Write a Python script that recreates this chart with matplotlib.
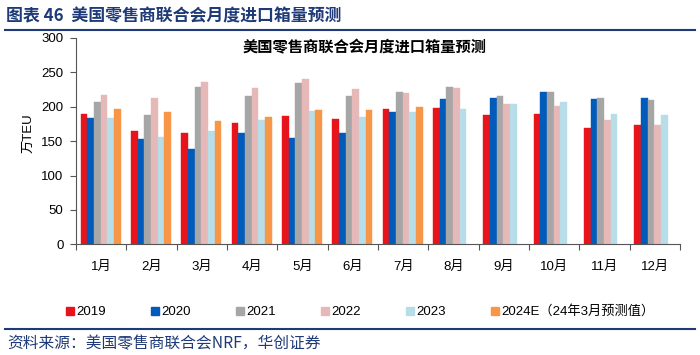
import numpy as np
import matplotlib
matplotlib.use("Agg")
import matplotlib.pyplot as plt
from matplotlib.lines import Line2D

plt.rcParams['font.family'] = ['Liberation Sans', 'Noto Sans CJK SC', 'DejaVu Sans']

# 数据（万TEU）
months = ["1月", "2月", "3月", "4月", "5月", "6月", "7月", "8月", "9月", "10月", "11月", "12月"]
y2019 = [190, 164, 162, 176, 186, 182, 197, 198, 188, 189, 169, 173]
y2020 = [183, 153, 139, 162, 155, 162, 193, 211, 212, 222, 211, 212]
y2021 = [207, 188, 228, 216, 234, 216, 221, 228, 215, 222, 212, 210]
y2022 = [217, 212, 236, 227, 241, 226, 220, 227, 204, 201, 180, 174]
y2023 = [183, 156, 165, 180, 194, 185, 192, 197, 204, 207, 190, 188]
y2024e = [197, 192, 179, 185, 195, 195, 200, np.nan, np.nan, np.nan, np.nan, np.nan]

series = [y2019, y2020, y2021, y2022, y2023, y2024e]
labels = ["2019", "2020", "2021", "2022", "2023", "2024E（24年3月预测值）"]
colors = ["#E8141C", "#005BBB", "#A6A6A6", "#E6B9B8", "#B7DEE8", "#F79646"]

navy = "#1F3A78"

fig = plt.figure(figsize=(7, 3.55), dpi=100)
ax = fig.add_axes([0.1086, 0.3118, 0.8628, 0.5814])

x = np.arange(len(months))
w = 0.133
for i, (vals, c) in enumerate(zip(series, colors)):
    ax.bar(x + (i - 2.5) * w - 0.01, vals, width=w, color=c, edgecolor=c, linewidth=0.3, label=labels[i])

ax.set_xlim(-0.5, 11.5)
ax.set_ylim(0, 300)
ax.set_yticks(range(0, 301, 50))
ax.set_xticks(np.arange(-0.5, 12, 1))
ax.set_xticklabels([])
ax.set_xticks(x, minor=True)
ax.set_xticklabels(months, minor=True, fontsize=9.5)
ax.tick_params(axis='x', which='major', direction='out', length=4, color='#555555')
ax.tick_params(axis='x', which='minor', length=0, pad=12)
ax.tick_params(axis='y', direction='out', length=4, color='#555555', labelsize=9.5, pad=5)
for s in ['top', 'right']:
    ax.spines[s].set_visible(False)
for s in ['left', 'bottom']:
    ax.spines[s].set_color('#555555')
    ax.spines[s].set_linewidth(0.8)
ax.set_ylabel("万TEU", fontsize=9.5)
ax.yaxis.set_label_coords(-0.068, 0.54)

ax.text(0.478, 0.95, "美国零售商联合会月度进口箱量预测", transform=ax.transAxes,
        ha='center', va='center', fontsize=11, fontweight='bold')

# 图例
handles = [Line2D([], [], marker='s', linestyle='', markersize=5.5, color=c) for c in colors]
fig.legend(handles, labels, loc='center left', bbox_to_anchor=(0.081, 0.122), ncol=6, frameon=False,
           fontsize=9.5, handletextpad=0.0, columnspacing=3.2, handlelength=1.0, borderpad=0)

# 标题与来源
fig.text(0.008, 0.953, "图表 46  美国零售商联合会月度进口箱量预测", fontsize=12.2, fontweight='bold',
         color=navy, va='center', family=['Noto Sans CJK SC'])
fig.add_artist(Line2D([0.007, 0.993], [0.915, 0.915], color=navy, linewidth=1.5))
fig.add_artist(Line2D([0.007, 0.993], [0.072, 0.072], color=navy, linewidth=1.5))
fig.text(0.01, 0.033, "资料来源：美国零售商联合会NRF，华创证券", fontsize=11.3, style='italic',
         color=navy, va='center', family=['Noto Sans CJK SC'])

fig.savefig("out.png", dpi=100)
